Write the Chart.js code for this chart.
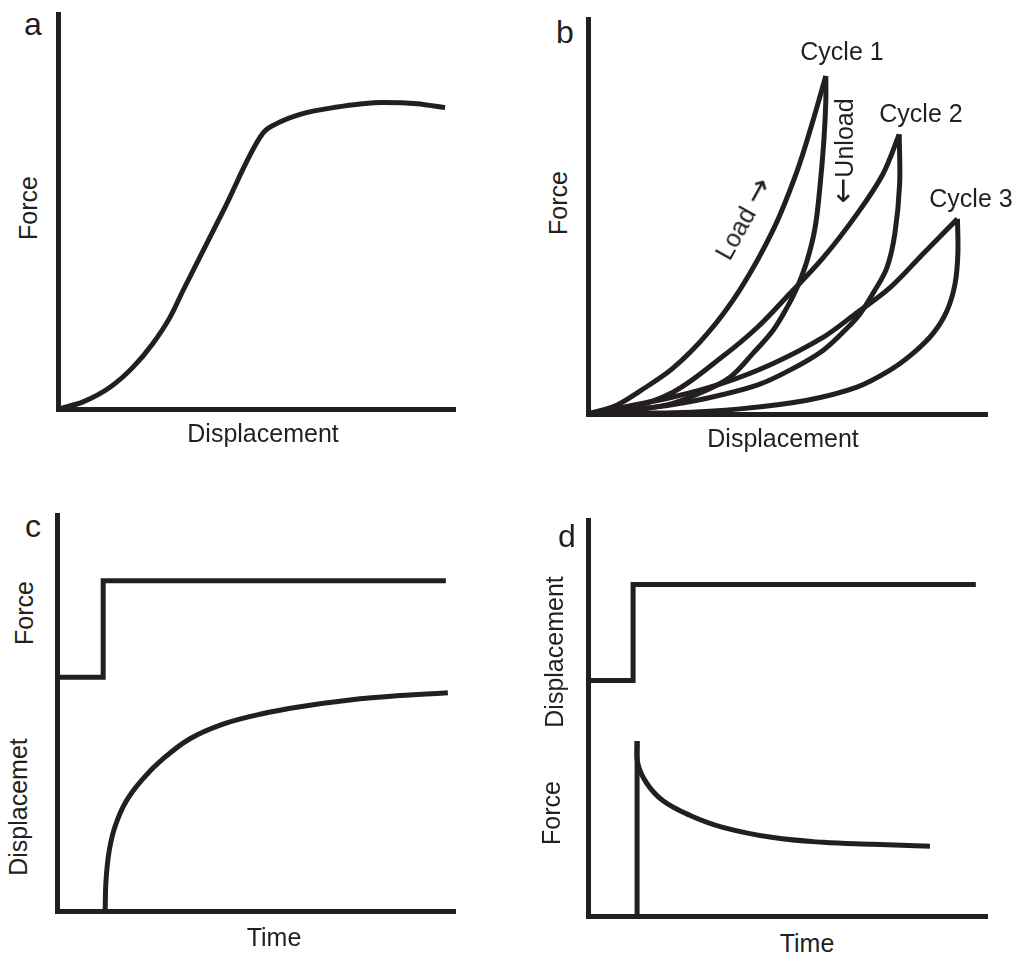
<!DOCTYPE html>
<html>
<head>
<meta charset="utf-8">
<script src="https://cdn.jsdelivr.net/npm/chart.js"></script>
<style>
  body { margin: 0; background: #fff; }
  #fig { position: relative; width: 1019px; height: 956px; overflow: hidden; background: #fff; }
  #fig canvas { position: absolute; }
  .lbl { position: absolute; font-family: "Liberation Sans", Arial, Helvetica, sans-serif; font-size: 25px;
         color: #231f20; white-space: nowrap; line-height: 1; transform: translate(-50%, -50%); }
  .big { font-size: 32px; }
  .up { transform: translate(-50%, -50%) rotate(-90deg); }
  .arr { font-family: "DejaVu Sans", sans-serif; font-size: 31px; line-height: 1; }
</style>
</head>
<body>
<div id="fig">
  <canvas id="chartA"></canvas>
  <canvas id="chartB"></canvas>
  <canvas id="chartC"></canvas>
  <canvas id="chartD"></canvas>

  <div class="lbl big" style="left:33px;top:24px">a</div>
  <div class="lbl up" style="left:28px;top:208px">Force</div>
  <div class="lbl" style="left:263px;top:433px">Displacement</div>

  <div class="lbl big" style="left:565px;top:32px">b</div>
  <div class="lbl up" style="left:558px;top:203px">Force</div>
  <div class="lbl" style="left:783px;top:438px">Displacement</div>
  <div class="lbl" style="left:842px;top:51px">Cycle 1</div>
  <div class="lbl" style="left:921px;top:113px">Cycle 2</div>
  <div class="lbl" style="left:971px;top:198px">Cycle 3</div>
  <div class="lbl up" style="left:842px;top:151px"><span class="arr">&larr;</span>Unload</div>
  <div class="lbl" style="left:742px;top:218px;transform:translate(-50%,-50%) rotate(-61deg)">Load <span class="arr">&rarr;</span></div>

  <div class="lbl big" style="left:33px;top:526px">c</div>
  <div class="lbl up" style="left:24px;top:613px">Force</div>
  <div class="lbl up" style="left:18px;top:807px">Displacemet</div>
  <div class="lbl" style="left:274px;top:937px">Time</div>

  <div class="lbl big" style="left:567px;top:536px">d</div>
  <div class="lbl up" style="left:554px;top:652px">Displacement</div>
  <div class="lbl up" style="left:551px;top:813px">Force</div>
  <div class="lbl" style="left:807px;top:943px">Time</div>
</div>

<script>
// ---- data (arbitrary units, axes run 0..100) ----

// a: force-displacement curve
var aDisp  = [0, 6.3, 13.1, 18.9, 23.9, 28.2, 31.5, 41.5, 51.6, 55.2, 61, 69.3, 81.9, 90.4, 97.5];
var aForce = [0, 1.8, 5.5, 10.6, 16.6, 23.2, 30, 49.9, 69.8, 72.3, 74.6, 76.3, 77.6, 77.3, 76.3];

// b: three load / unload cycles
var bLoad1X   = [0, 7.3, 13, 21.3, 29.8, 38.1, 46.4, 52.4, 56.4, 59.6];
var bLoad1Y   = [0, 2.3, 5.8, 11.6, 20.2, 31.5, 46.6, 61.5, 74.3, 85.6];
var bUnload1X = [59.6, 59.6, 59.1, 58.1, 56.9, 54.9, 52.4, 49.9, 46.4, 41.4, 35.6, 28.1, 19.8, 8.8, 0];
var bUnload1Y = [85.6, 79.1, 69, 57.2, 47.1, 38.8, 32, 27, 21.2, 15.4, 9.3, 5.3, 2.3, 0.8, 0];
var bLoad2X   = [0, 8.8, 21.3, 33.8, 42.4, 50.6, 58.9, 67.4, 73.9, 78];
var bLoad2Y   = [0, 1, 5.5, 14.6, 21.9, 30.5, 39.5, 50.6, 60.7, 70.8];
var bUnload2X = [78, 78.1, 76.9, 74.9, 71.4, 68.2, 64.9, 58.9, 50.6, 42.4, 29.8, 17.3, 4.8, 0];
var bUnload2Y = [70.8, 58.2, 45.6, 37, 30.5, 25.4, 21.7, 16.1, 11.1, 7.3, 4, 1.8, 0.5, 0];
var bLoad3X   = [0, 21.3, 33.8, 46.4, 58.9, 66.4, 75.7, 84, 92.6];
var bLoad3Y   = [0, 4.3, 7.8, 12.8, 19.4, 24.9, 32, 40.6, 49.4];
var bUnload3X = [92.6, 92.7, 92, 90, 86.5, 81.5, 75.7, 67.4, 54.9, 38.1, 21.3, 8.8, 0];
var bUnload3Y = [49.4, 40.6, 33, 26.2, 20.4, 15.4, 11.1, 6.8, 3.5, 1.3, 0.3, 0.3, 0];

// c: creep (force step, displacement response)
var cStepT      = [0, 11.6, 11.6, 97.7];
var cStepForce  = [59, 59, 83.4, 83.4];
var cCreepT     = [12.1, 12.3, 13.1, 14.6, 17.3, 21.4, 26.6, 33.4, 41.7, 51, 61.1, 73.6, 86.2, 98.2];
var cCreepDisp  = [0, 7.5, 15.1, 21.4, 27.6, 33.2, 38.4, 43.5, 47.2, 49.7, 51.6, 53.3, 54.4, 55.1];

// d: stress relaxation (displacement step, force response)
var dStepT      = [0, 11.3, 11.3, 97.2];
var dStepDisp   = [59.5, 59.5, 83.7, 83.7];
var dRiseT      = [12.3, 12.3];
var dRiseForce  = [0, 44.2];
var dRelaxT     = [12.3, 12.5, 14.8, 18.8, 25.6, 33.8, 46.4, 58.9, 71.4, 85.7];
var dRelaxForce = [44.2, 38.4, 33.4, 29.1, 25.4, 22.4, 19.8, 18.6, 18.1, 17.6];

var INK = '#231f20';

function pts(xs, ys) {
	return xs.map(function(x, i){ return { x: x, y: ys[i] }; });
}

function line(xs, ys, tension) {
	return {
		data: pts(xs, ys),
		showLine: true,
		borderColor: INK,
		borderWidth: 5,
		borderJoinStyle: 'miter',
		pointRadius: 0,
		tension: tension,
		fill: false,
		clip: false
	};
}

// box = [left, top, right, bottom] of the axes corner in page pixels
function panel(id, box, datasets){

	var P = 12;
	var cv = document.getElementById(id);
	cv.width = box[2] - box[0] + 2 * P;
	cv.height = box[3] - box[1] + 2 * P;
	cv.style.left = (box[0] - P) + 'px';
	cv.style.top = (box[1] - P) + 'px';

	var axis = {
		type: 'linear', min: 0, max: 100,
		ticks: { display: false },
		grid: { display: false, drawTicks: false },
		border: { display: true, color: INK, width: 5 }
	};

	new Chart(cv, {
		type: 'scatter',
		data: { datasets: datasets },
		options: {
			responsive: false,
			animation: false,
			devicePixelRatio: 1,
			events: [],
			layout: { padding: P, autoPadding: false },
			plugins: { legend: { display: false }, tooltip: { enabled: false } },
			scales: { x: axis, y: Object.assign({}, axis) }
		}
	});
}

panel('chartA', [58, 14, 455, 409], [
	Object.assign(line(aDisp, aForce, 0.4), { cubicInterpolationMode: 'monotone' })
]);

panel('chartB', [588, 19, 987, 414], [
	line(bLoad1X, bLoad1Y, 0.35),
	line(bUnload1X, bUnload1Y, 0.35),
	line(bLoad2X, bLoad2Y, 0.35),
	line(bUnload2X, bUnload2Y, 0.35),
	line(bLoad3X, bLoad3Y, 0.35),
	line(bUnload3X, bUnload3Y, 0.35)
]);

panel('chartC', [57, 515, 455, 911], [
	line(cStepT, cStepForce, 0),
	line(cCreepT, cCreepDisp, 0.35)
]);

panel('chartD', [588, 520, 987, 916], [
	line(dStepT, dStepDisp, 0),
	line(dRiseT, dRiseForce, 0),
	line(dRelaxT, dRelaxForce, 0.4)
]);
</script>
</body>
</html>
